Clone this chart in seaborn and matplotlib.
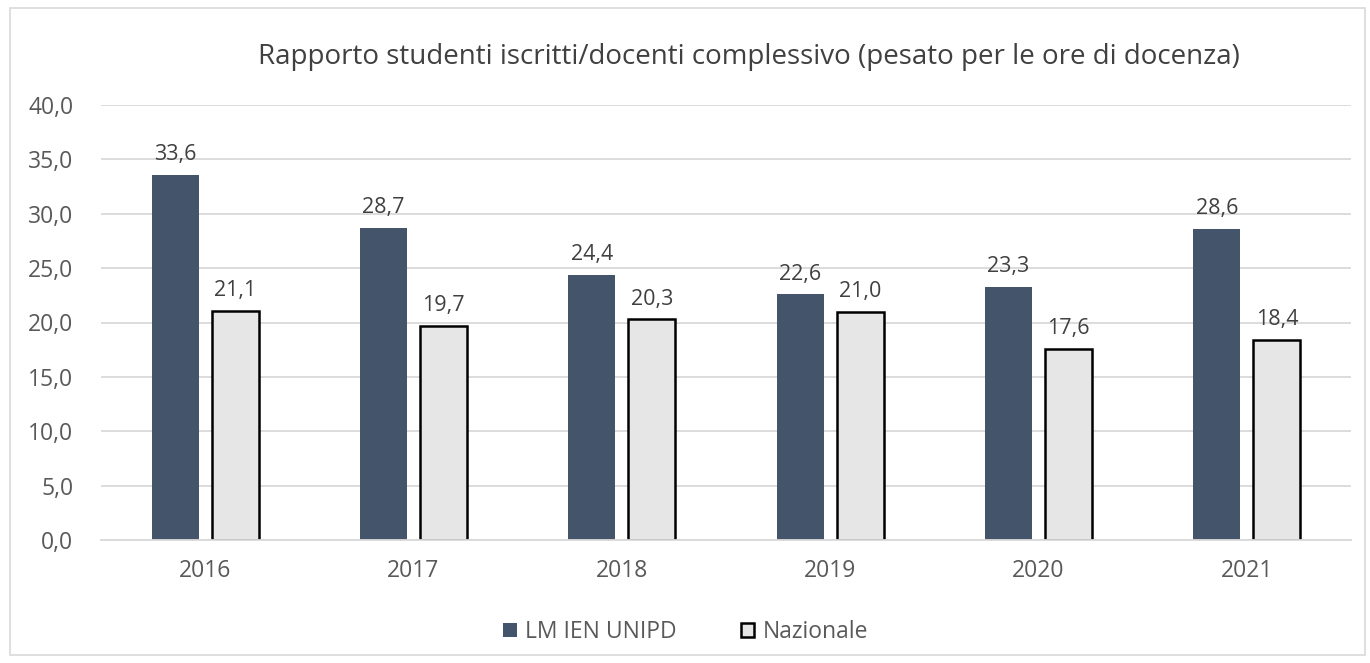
import matplotlib
matplotlib.use("Agg")
import matplotlib.pyplot as plt
import seaborn as sns
import pandas as pd
from matplotlib.patches import Rectangle, Patch

years = ["2016", "2017", "2018", "2019", "2020", "2021"]
unipd = [33.6, 28.7, 24.4, 22.6, 23.3, 28.6]
nazionale = [21.1, 19.7, 20.3, 21.0, 17.6, 18.4]
series = ["LM IEN UNIPD", "Nazionale"]
title = "Rapporto studenti iscritti/docenti complessivo (pesato per le ore di docenza)"

df = pd.DataFrame({
    "Anno": years * 2,
    "Valore": unipd + nazionale,
    "Serie": [series[0]] * len(years) + [series[1]] * len(years),
})

sns.set_theme(style="white")
plt.rcParams["font.family"] = ["Open Sans", "DejaVu Sans"]

fig = plt.figure(figsize=(13.7, 6.63), dpi=100)
ax = fig.add_axes([101 / 1370, 1 - 540 / 663, (1351 - 101) / 1370, (540 - 105) / 663])

colors = {series[0]: "#44546A", series[1]: "#E7E6E6"}
sns.barplot(data=df, x="Anno", y="Valore", hue="Serie", palette=colors,
            width=0.577, gap=0.215, ax=ax, legend=False, saturation=1)

for container, s in zip(ax.containers, series):
    for p in container:
        if s == series[1]:
            p.set_edgecolor("black")
            p.set_linewidth(1.8)
        else:
            p.set_edgecolor("none")
    ax.bar_label(container, labels=[f"{v:.1f}".replace(".", ",") for v in container.datavalues],
                 padding=7, fontsize=15.5, color="#404040")

ax.set_ylim(0, 40)
ax.set_yticks(range(0, 41, 5))
ax.set_yticklabels([f"{v:.1f}".replace(".", ",") for v in range(0, 41, 5)])
ax.set_xlim(-0.5, len(years) - 0.5)
ax.yaxis.grid(True, color="#D9D9D9", linewidth=1.3)
ax.set_axisbelow(True)
for sp in ["top", "right", "left"]:
    ax.spines[sp].set_visible(False)
ax.spines["bottom"].set_color("#D9D9D9")
ax.spines["bottom"].set_linewidth(1.3)
ax.tick_params(axis="y", length=0, labelsize=16.5, colors="#595959", pad=20)
ax.tick_params(axis="x", length=0, labelsize=16.5, colors="#595959", pad=14)
ax.set_xlabel("")
ax.set_ylabel("")

fig.text(0.5464, 1 - 57 / 663, title, ha="center", va="center", fontsize=20, color="#404040")

handles = [Patch(facecolor=colors[series[0]], edgecolor="none"),
           Patch(facecolor=colors[series[1]], edgecolor="black", linewidth=1.8)]
fig.legend(handles, series, loc="center", bbox_to_anchor=(0.5004, 1 - 632 / 663), ncol=2,
           frameon=False, fontsize=16.5, labelcolor="#595959", handlelength=0.6, handleheight=0.6,
           handletextpad=0.35, columnspacing=2.8)

fig.patches.append(Rectangle((10 / 1370, 8 / 663), 1355 / 1370, 647 / 663, transform=fig.transFigure,
                             fill=False, edgecolor="#D9D9D9", linewidth=1.2))

fig.savefig("out.png", dpi=100)
